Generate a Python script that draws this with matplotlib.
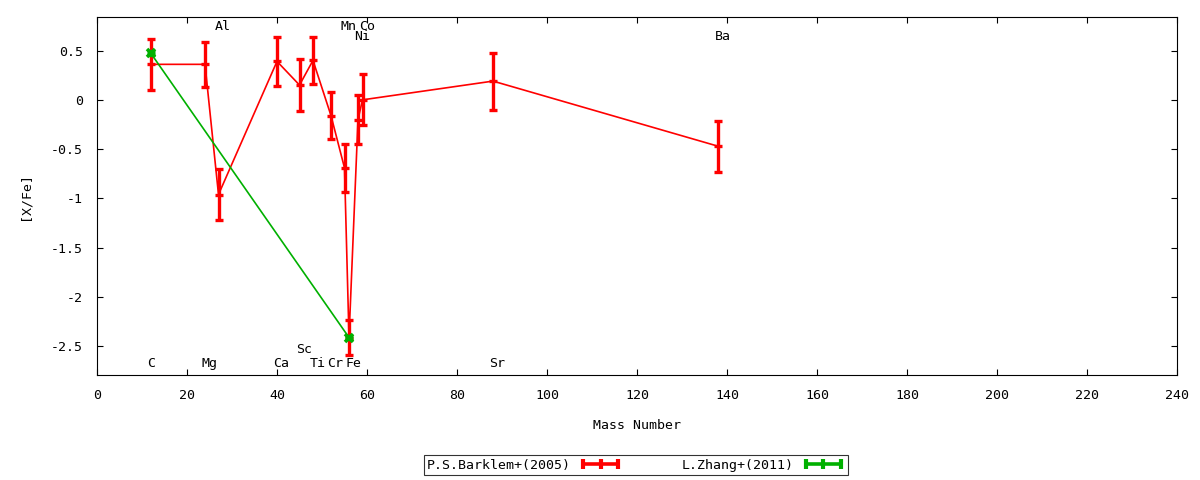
import matplotlib
matplotlib.use("Agg")
import matplotlib.pyplot as plt
from matplotlib.lines import Line2D

plt.rcParams['font.family'] = ['DejaVu Sans Mono']
plt.rcParams['axes.unicode_minus'] = False

# Barklem et al. (2005): element, mass number, [X/Fe], error
elements = ['C', 'Mg', 'Al', 'Ca', 'Sc', 'Ti', 'Cr', 'Mn', 'Fe', 'Ni', 'Co', 'Sr', 'Ba']
mass = [12, 24, 27, 40, 45, 48, 52, 55, 56, 58, 59, 88, 138]
xfe = [0.36, 0.36, -0.96, 0.39, 0.15, 0.40, -0.16, -0.69, -2.41, -0.20, 0.00, 0.19, -0.47]
err = [0.26, 0.23, 0.26, 0.25, 0.26, 0.24, 0.24, 0.24, 0.18, 0.25, 0.26, 0.29, 0.26]

# Zhang et al. (2011)
zhang_mass = [12, 56]
zhang_xfe = [0.47, -2.41]
zhang_err = [0.02, 0.02]

# element labels: name, x, y
label_names = ['C', 'Mg', 'Al', 'Ca', 'Sc', 'Ti', 'Cr', 'Mn', 'Fe', 'Co', 'Ni', 'Sr', 'Ba']
label_x = [12, 24, 27, 40, 45, 48, 52, 55, 56, 59, 58, 88, 138]
label_y = [-2.67, -2.67, 0.74, -2.67, -2.53, -2.67, -2.67, 0.74, -2.67, 0.74, 0.64, -2.67, 0.64]

fig = plt.figure(figsize=(12, 4.8), dpi=100)
ax = fig.add_axes([97 / 1200, 1 - 375 / 480, 1080 / 1200, 358 / 480])

red = '#ff0000'
green = '#00b000'

ax.plot(mass, xfe, color=red, lw=1.2, zorder=2)
ax.errorbar(mass, xfe, yerr=err, fmt='none', ecolor=red, elinewidth=2.4,
            capsize=3, capthick=2.4, zorder=3)
ax.plot(mass, xfe, ls='none', marker='_', ms=6, mew=2.4, color=red, zorder=3)

ax.plot(zhang_mass, zhang_xfe, color=green, lw=1.2, zorder=4)
ax.errorbar(zhang_mass, zhang_xfe, yerr=zhang_err, fmt='none', ecolor=green,
            elinewidth=2.4, capsize=3, capthick=2.4, zorder=5)
ax.plot(zhang_mass, zhang_xfe, ls='none', marker='x', ms=6, mew=2.6, color=green, zorder=5)

for name, x, y in zip(label_names, label_x, label_y):
    ax.text(x - 0.8, y, name, ha='left', va='center', fontsize=9.5)

ax.set_xlim(0, 240)
ax.set_ylim(-2.79, 0.84)
ax.set_xticks(range(0, 241, 20))
ax.set_yticks([0.5, 0, -0.5, -1, -1.5, -2, -2.5])
ax.set_yticklabels(['0.5', '0', '-0.5', '-1', '-1.5', '-2', '-2.5'])
ax.tick_params(direction='in', length=4, width=0.8, top=True, right=True,
               labelsize=9.5, pad=10)
for s in ax.spines.values():
    s.set_linewidth(0.8)

ax.set_xlabel('Mass Number', fontsize=9.5, labelpad=12)
ax.set_ylabel('[X/Fe]', fontsize=9.5, labelpad=14)

h1 = Line2D([], [], color=red, lw=2.6, marker='|', ms=7, mew=3)
h2 = Line2D([], [], color=green, lw=2.6, marker='|', ms=7, mew=3)
leg = fig.legend([h1, h2], ['P.S.Barklem+(2005)', 'L.Zhang+(2011)'], ncol=2,
                 loc='center', bbox_to_anchor=(636 / 1200, 1 - 465 / 480),
                 fontsize=9.5, frameon=True, fancybox=False, markerfirst=False,
                 numpoints=3, handlelength=3.3, columnspacing=4.5,
                 handletextpad=0.6, borderpad=0.25, borderaxespad=0)
leg.get_frame().set_edgecolor('black')
leg.get_frame().set_linewidth(0.8)

fig.savefig('out.png', dpi=100)
